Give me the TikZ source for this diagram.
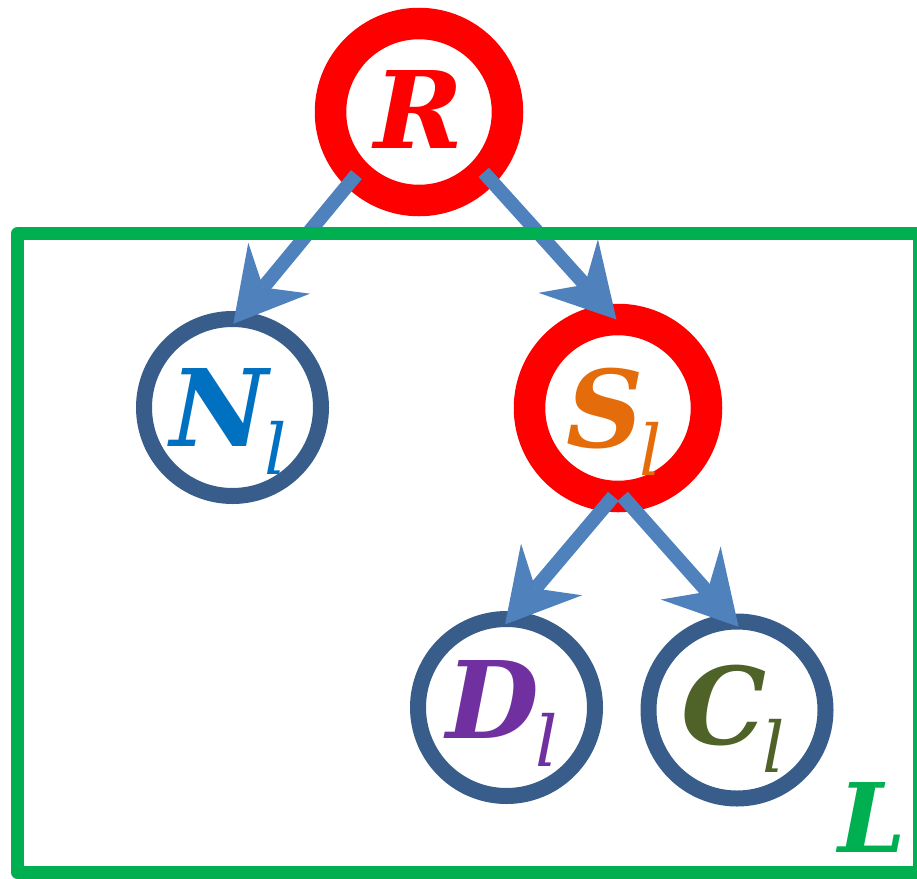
\documentclass[tikz,border=0pt]{standalone}
\usepackage{fontspec}
\setmainfont{DejaVu Serif}
\usetikzlibrary{arrows.meta}

\definecolor{ringred}{RGB}{255,0,0}
\definecolor{ringblue}{RGB}{56,93,138}
\definecolor{arrowblue}{RGB}{79,129,189}
\definecolor{boxgreen}{RGB}{0,176,80}
\definecolor{nblue}{RGB}{0,112,192}
\definecolor{sorange}{RGB}{228,108,10}
\definecolor{dpurple}{RGB}{112,48,160}
\definecolor{colive}{RGB}{79,98,40}

\newcommand{\lsub}{\kern-4pt\raisebox{-28pt}{\fontsize{70}{70}\selectfont\mdseries\itshape l}\kern8pt}

\begin{document}
\begin{tikzpicture}[x=1pt,y=-1pt,
  tnode/.style={circle,minimum size=177pt,inner sep=0pt,outer sep=0pt,
                text height=78pt,text depth=0pt,
                font=\fontsize{107}{110}\selectfont\bfseries\itshape},
  bluenode/.style={tnode,draw=ringblue,line width=16pt},
  rednode/.style={tnode,draw=ringred,line width=31.5pt},
  link/.style={draw=arrowblue,line width=14pt,
               -{Stealth[length=72pt,width=80pt,inset=25pt,line width=0pt]}}
]
  \useasboundingbox (0,0) rectangle (917,878);

  \node[rednode,  text=ringred, text height=72pt] (R) at (419,112)   {R};
  \node[bluenode, text=nblue]                     (N) at (232.5,407.5) {N\lsub};
  \node[rednode,  text=sorange]                   (S) at (618,408)   {S\lsub};
  \node[bluenode, text=dpurple, text height=61pt] (D) at (506.5,707.5) {D\lsub};
  \node[bluenode, text=colive, text height=68pt]  (C) at (737,710)   {C\lsub};

  \draw[link, shorten >=-6pt] (R.225) -- (N.87);
  \draw[link]                 (R.-43) -- (S.91);
  \draw[link, shorten >=-7pt] (S.-93) -- (D.88);
  \draw[link, shorten >=-7pt] (S.-87) -- (C.92);

  \draw[boxgreen, line width=13pt, line join=round]
    (17.5,233.5) rectangle (919.5,872.5);
  \node[anchor=base west, inner sep=0pt, text=boxgreen,
        font=\fontsize{96}{100}\selectfont\bfseries\itshape] (Ltag) at (838,852) {L};
\end{tikzpicture}
\end{document}
